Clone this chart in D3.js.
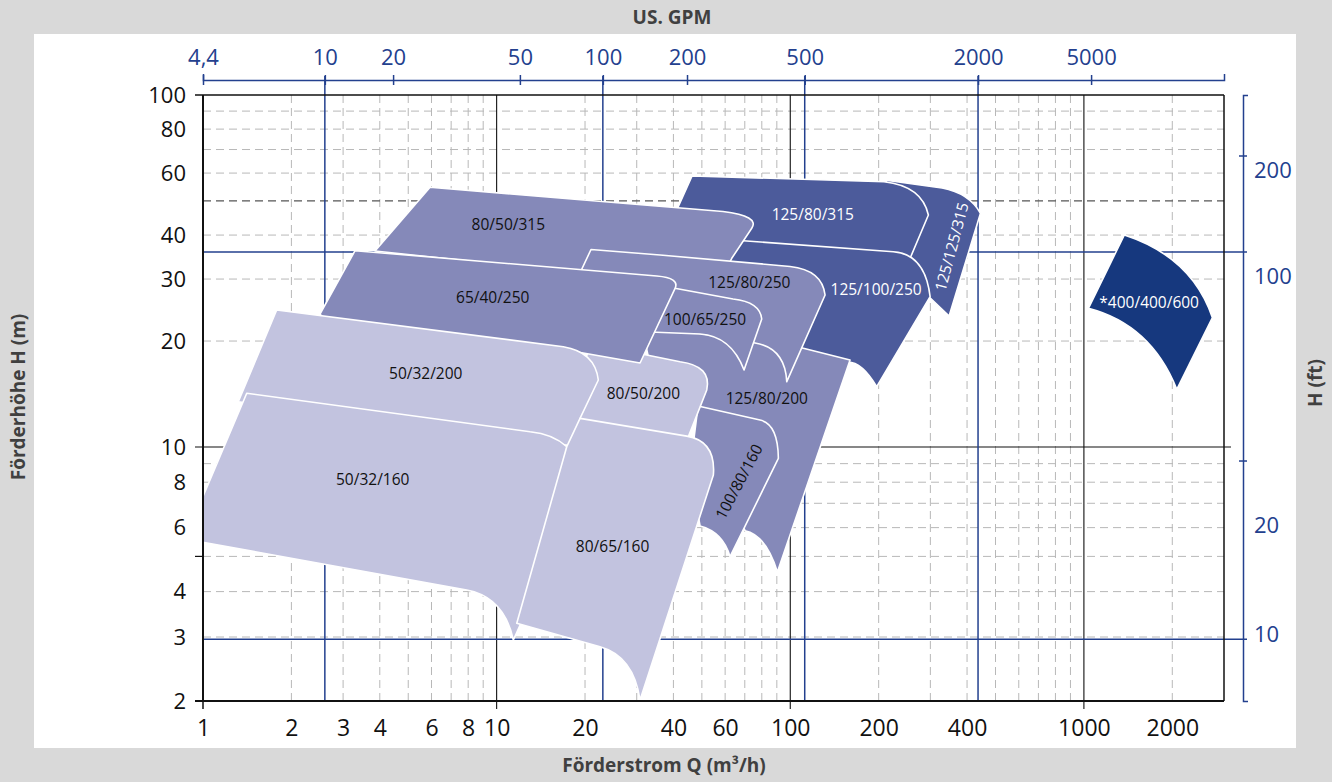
<!DOCTYPE html>
<html lang="de">
<head>
<meta charset="UTF-8" />
<title>Kennfeld</title>
<script src="https://cdn.jsdelivr.net/npm/d3@7"></script>
<style>
  body { margin: 0; background: #d9d9d9; }
  svg { display: block; }
</style>
</head>
<body>
<svg id="chart" width="1332" height="782"></svg>
<script>
// axis values
const qLabels = [1, 2, 3, 4, 6, 8, 10, 20, 40, 60, 100, 200, 400, 1000, 2000];
const hLabels = [2, 3, 4, 6, 8, 10, 20, 30, 40, 60, 80, 100];
const qGrid = [2, 3, 4, 5, 6, 7, 8, 9, 20, 30, 40, 50, 60, 70, 80, 90, 200, 300, 400, 500, 600, 700, 800, 900, 2000];
const hGrid = [3, 4, 5, 6, 7, 8, 9, 20, 30, 40, 60, 70, 80, 90];
const hGridDark = [50];
const qDecades = [10, 100, 1000];
const hDecades = [10];
const gpmTicks = [4.4, 10, 20, 50, 100, 200, 500, 2000, 5000];
const gpmLabels = ["4,4", "10", "20", "50", "100", "200", "500", "2000", "5000"];
const gpmAtQ = [1, 2.6, 4.44, 12, 23, 44.5, 112, 436, 1058];   // where the GPM ticks sit on the m³/h axis
const gpmLines = [10, 100, 500, 2000];
const ftLabels = [200, 100, 20, 10];
const ftMarksH = [67.1, 9.15];
const blueLinesH = [35.8, 2.96];

// pump fields, back to front. [Q, H] points, "c" = control point of a curve to the next point
const pumpNames = ["125/125/315", "125/80/315", "125/100/250", "80/50/315", "125/80/200", "125/80/250",
  "100/65/250", "100/80/160", "80/50/200", "65/40/250", "50/32/200", "50/32/160", "80/65/160", "*400/400/600"];
const pumpTones = ["dark", "dark", "dark", "mid", "mid", "mid", "mid", "mid", "light", "mid", "light", "light", "light", "navy"];
const pumpOutlines = [
  [[208.7, 57.35], [328.9, 54.42], [406.4, 52.67, "c"], [444.4, 46.12], [347.5, 23.56], [292.4, 27.03], [246.0, 35.12], [281.2, 46.52]],
  [[46.29, 58.87], [208.7, 56.72], [281.2, 55.14, "c"], [295.4, 45.62], [255.9, 34.36], [227.5, 29.81], [49.29, 32.88], [38.96, 42.73]],
  [[51.26, 39.24], [224.5, 35.87], [287.9, 35.34, "c"], [299.4, 26.73], [197.0, 14.84], [175.6, 17.44, "c"], [157.3, 17.44], [99.84, 19.49], [62.37, 26.16]],
  [[5.932, 54.68], [59.00, 46.67], [78.89, 45.31, "c"], [73.93, 41.81], [63.20, 34.36], [56.77, 28.85], [22.50, 30.80], [3.853, 36.04]],
  [[30.79, 23.25], [110.8, 19.07], [159.8, 17.67], [90.40, 4.529], [82.70, 5.725, "c"], [70.15, 5.884], [57.67, 8.113], [49.29, 11.93], [33.30, 17.10]],
  [[20.96, 36.40], [36.02, 35.12], [99.84, 32.57], [128.3, 31.83, "c"], [131.4, 27.03], [97.30, 15.33], [96.00, 19.11, "c"], [75.86, 19.75], [42.14, 21.50], [30.79, 26.16], [18.94, 30.41]],
  [[38.36, 28.48], [63.85, 26.33], [78.89, 25.82, "c"], [79.95, 23.10], [69.60, 16.55], [62.86, 20.67, "c"], [49.29, 20.94], [33.30, 21.22]],
  [[48.53, 13.08], [78.89, 11.93], [90.87, 11.62, "c"], [91.09, 9.309], [62.37, 4.990], [59.00, 5.835, "c"], [49.29, 6.062], [45.57, 8.643]],
  [[20.80, 19.62], [32.45, 18.26], [42.14, 17.47], [54.17, 16.99, "c"], [51.95, 14.52], [44.98, 10.70], [44.17, 10.13], [18.49, 11.32], [19.23, 15.50]],
  [[3.294, 36.12], [35.10, 30.60], [42.14, 30.21, "c"], [40.52, 28.24], [30.79, 17.32], [17.24, 18.86], [2.563, 23.25], [2.503, 23.87]],
  [[1.782, 24.50], [16.87, 19.27], [21.63, 18.62, "c"], [22.20, 15.50], [19.23, 12.06], [18.94, 10.13], [14.05, 10.13], [1.319, 13.45]],
  [[1.409, 14.21], [13.00, 11.05], [15.56, 10.89, "c"], [17.33, 10.02], [17.10, 8.643], [12.02, 3.238], [11.40, 2.944], [10.60, 3.866, "c"], [7.910, 4.041], [0.8685, 5.582]],
  [[19.23, 12.06], [44.41, 10.74], [55.89, 10.40, "c"], [54.72, 8.373], [30.79, 2.013], [29.27, 2.660, "c"], [22.50, 2.822], [11.71, 3.273], [17.33, 10.02]],
  [[1373, 40.02], [2331, 34.66, "c"], [2740, 23.30], [2072, 14.58], [1693, 22.27, "c"], [1036, 24.77]]
];
const labelQ = [354.9, 119.3, 196.0, 10.96, 83.18, 72.55, 51.26, 66.93, 31.60, 9.699, 5.735, 3.784, 24.82, 1668];
const labelH = [37.07, 45.82, 28.05, 42.73, 13.75, 29.29, 22.95, 8.026, 14.21, 26.55, 16.20, 8.113, 5.324, 25.70];
const labelTurn = [-75, 0, 0, 0, 0, 0, 0, -62, 0, 0, 0, 0, 0, 0];

const toneColor = { light: "#c2c3df", mid: "#8589b9", dark: "#4c5b9b", navy: "#16387e" };
const blue = "#23408e";
const font = "'Open Sans', 'DejaVu Sans', sans-serif";

const svg = d3.select("#chart");

const x = d3.scaleLog().domain([1, 3000]).range([203, 1224]);
const y = d3.scaleLog().domain([2, 10, 100]).range([701, 447, 95]);
const ftScale = d3.scaleLog().domain(y.domain().map(h => h / 0.3048)).range(y.range());
const gpmScale = d3.scaleLog().domain(gpmTicks.concat(13200)).range(gpmAtQ.concat(3000).map(x));

const x0 = x.range()[0], x1 = x.range()[1], yTop = y(100), yBot = y(2);

// panel
svg.append("rect").attr("width", 1332).attr("height", 782).attr("fill", "#d9d9d9");
svg.append("rect").attr("x", 34).attr("y", 34).attr("width", 1262).attr("height", 714).attr("fill", "#fff");

// dashed grid
const grid = svg.append("g");
grid.selectAll(".vg").data(qGrid).enter().append("line")
    .attr("x1", d => x(d)).attr("x2", d => x(d))
    .attr("y1", yTop).attr("y2", yBot)
    .attr("stroke", "#b8b8b8").attr("stroke-dasharray", "8,5");
grid.selectAll(".hg").data(hGrid).enter().append("line")
    .attr("x1", x0).attr("x2", x1)
    .attr("y1", d => y(d)).attr("y2", d => y(d))
    .attr("stroke", "#b8b8b8").attr("stroke-dasharray", "8,5");
grid.selectAll(".hd").data(hGridDark).enter().append("line")
    .attr("x1", x0).attr("x2", x1)
    .attr("y1", d => y(d)).attr("y2", d => y(d))
    .attr("stroke", "#555").attr("stroke-width", 1.2).attr("stroke-dasharray", "8,5");

// solid decade lines
grid.selectAll(".qd").data(qDecades).enter().append("line")
    .attr("x1", d => x(d)).attr("x2", d => x(d))
    .attr("y1", yTop).attr("y2", yBot + 8)
    .attr("stroke", "#111").attr("stroke-width", 1.1);
grid.selectAll(".hdc").data(hDecades).enter().append("line")
    .attr("x1", x0 - 8).attr("x2", x1 + 7)
    .attr("y1", d => y(d)).attr("y2", d => y(d))
    .attr("stroke", "#111").attr("stroke-width", 1.1);

// blue reference lines
grid.selectAll(".gl").data(gpmLines).enter().append("line")
    .attr("x1", d => gpmScale(d)).attr("x2", d => gpmScale(d))
    .attr("y1", 76).attr("y2", yBot)
    .attr("stroke", blue).attr("stroke-width", 1.5);
grid.selectAll(".bl").data(blueLinesH).enter().append("line")
    .attr("x1", x0).attr("x2", 1247)
    .attr("y1", d => y(d)).attr("y2", d => y(d))
    .attr("stroke", blue).attr("stroke-width", 1.5);

// pump fields
svg.append("clipPath").attr("id", "plotclip")
   .append("rect").attr("x", x0).attr("y", yTop).attr("width", x1 - x0).attr("height", yBot - yTop);

function outline(pts) {
  const p = d3.path();
  p.moveTo(x(pts[0][0]), y(pts[0][1]));
  for (let i = 1; i < pts.length; i++) {
    const d = pts[i];
    if (d[2] === "c") {
      const e = pts[i + 1];
      p.quadraticCurveTo(x(d[0]), y(d[1]), x(e[0]), y(e[1]));
      i++;
    } else {
      p.lineTo(x(d[0]), y(d[1]));
    }
  }
  p.closePath();
  return p.toString();
}

const fields = svg.append("g").attr("clip-path", "url(#plotclip)");
fields.selectAll("path").data(pumpOutlines).enter().append("path")
    .attr("d", outline)
    .attr("fill", (d, i) => toneColor[pumpTones[i]])
    .attr("stroke", "#fff").attr("stroke-width", 1.6).attr("stroke-linejoin", "round");

fields.selectAll("text").data(pumpNames).enter().append("text")
    .attr("transform", (d, i) => `translate(${x(labelQ[i])},${y(labelH[i])}) rotate(${labelTurn[i]})`)
    .attr("text-anchor", "middle").attr("dy", "0.35em")
    .attr("font-family", font).attr("font-size", 15.5)
    .attr("fill", (d, i) => (pumpTones[i] === "dark" || pumpTones[i] === "navy") ? "#fff" : "#111")
    .text(d => d);

// frame
const frame = svg.append("g").attr("stroke", "#111");
frame.append("line").attr("x1", x0).attr("x2", x0).attr("y1", yTop).attr("y2", yBot + 1).attr("stroke-width", 2);
frame.append("line").attr("x1", x0 - 8).attr("x2", x1).attr("y1", yBot).attr("y2", yBot).attr("stroke-width", 2);
frame.append("line").attr("x1", x0 - 8).attr("x2", x1).attr("y1", yTop).attr("y2", yTop).attr("stroke-width", 1.5);
frame.append("line").attr("x1", x1).attr("x2", x1).attr("y1", yTop).attr("y2", yBot).attr("stroke-width", 1.5);
frame.append("line").attr("x1", x0 - 8).attr("x2", x0).attr("y1", y(5)).attr("y2", y(5)).attr("stroke-width", 1.2);
frame.append("line").attr("x1", x0).attr("x2", x0).attr("y1", yBot).attr("y2", yBot + 8).attr("stroke-width", 1.5);

// axes
const leftAxis = svg.append("g").attr("transform", `translate(${x0},0)`)
    .call(d3.axisLeft(y).tickValues(hLabels).tickFormat(d3.format("d")).tickSize(0).tickPadding(17));
leftAxis.select(".domain").remove();

const bottomAxis = svg.append("g").attr("transform", `translate(0,${yBot})`)
    .call(d3.axisBottom(x).tickValues(qLabels).tickFormat(d3.format("d")).tickSize(0).tickPadding(19));
bottomAxis.select(".domain").remove();

const topAxis = svg.append("g").attr("transform", "translate(0,80)")
    .call(d3.axisTop(gpmScale).tickValues(gpmTicks).tickFormat((d, i) => gpmLabels[i])
          .tickSizeInner(5).tickSizeOuter(6).tickPadding(10));
topAxis.selectAll(".domain, .tick line").attr("stroke", blue).attr("stroke-width", 1.5);
topAxis.selectAll(".tick line").attr("y1", 5).attr("y2", -5);

const rightAxis = svg.append("g").attr("transform", "translate(1243,0)")
    .call(d3.axisRight(ftScale).tickValues(ftLabels).tickFormat(d3.format("d"))
          .tickSizeInner(0).tickSizeOuter(5).tickPadding(11));
rightAxis.select(".domain").attr("stroke", blue).attr("stroke-width", 1.5);
rightAxis.selectAll(".ftm").data(ftMarksH).enter().append("line")
    .attr("x1", -4).attr("x2", 4)
    .attr("y1", d => y(d)).attr("y2", d => y(d))
    .attr("stroke", blue).attr("stroke-width", 1.5);

[leftAxis, bottomAxis, topAxis, rightAxis].forEach(g => g.attr("font-family", font));
leftAxis.selectAll("text").attr("font-size", 22).attr("fill", "#111");
bottomAxis.selectAll("text").attr("font-size", 23).attr("fill", "#111");
topAxis.selectAll("text").attr("font-size", 22).attr("fill", blue);
rightAxis.selectAll("text").attr("font-size", 22).attr("fill", blue);

// titles
const titleColor = "#404040";
svg.append("text").attr("x", 672).attr("y", 24).attr("text-anchor", "middle")
   .attr("font-family", font).attr("font-weight", "bold").attr("font-size", 19).attr("fill", titleColor)
   .text("US. GPM");
svg.append("text").attr("x", 664).attr("y", 772).attr("text-anchor", "middle")
   .attr("font-family", font).attr("font-weight", "bold").attr("font-size", 19).attr("fill", titleColor)
   .text("Förderstrom Q (m³/h)");
svg.append("text").attr("transform", "translate(25,397) rotate(-90)").attr("text-anchor", "middle")
   .attr("font-family", font).attr("font-weight", "bold").attr("font-size", 19).attr("fill", titleColor)
   .text("Förderhöhe H (m)");
svg.append("text").attr("transform", "translate(1322,383) rotate(-90)").attr("text-anchor", "middle")
   .attr("font-family", font).attr("font-weight", "bold").attr("font-size", 19).attr("fill", titleColor)
   .text("H (ft)");
</script>
</body>
</html>
